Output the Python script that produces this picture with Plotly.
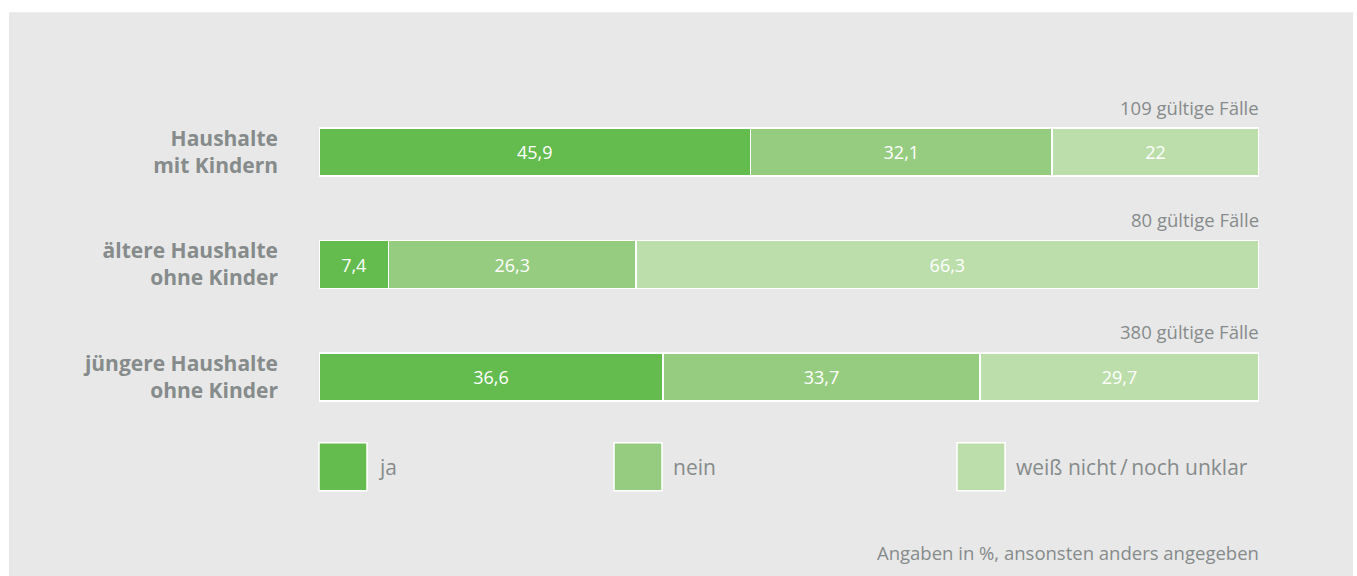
import plotly.graph_objects as go

categories = ["Haushalte<br>mit Kindern", "ältere Haushalte<br>ohne Kinder", "jüngere Haushalte<br>ohne Kinder"]
series_names = ["ja", "nein", "weiß nicht\u2009/\u2009noch unklar"]
ja = [45.9, 7.4, 36.6]
nein = [32.1, 26.3, 33.7]
unklar = [22, 66.3, 29.7]
cases = ["109 gültige Fälle", "80 gültige Fälle", "380 gültige Fälle"]
footnote = "Angaben in %, ansonsten anders angegeben"

colors = ["#64bb4e", "#96cc80", "#bcdeaa"]
TEXT = "#868b8b"
FONT = "Open Sans"

W, H = 1357, 576
L, R = 319, 1259
T, B = 95.75, 433.25


def fmt(v):
    s = ("%g" % v)
    return s.replace(".", ",")


def px_x(p):
    return (p - L) / (R - L)


def px_y(p):
    return (B - p) / (B - T)


fig = go.Figure()
for name, vals, col in zip(series_names, [ja, nein, unklar], colors):
    fig.add_trace(go.Bar(
        y=categories, x=vals, orientation="h", name=name,
        marker=dict(color=col, line=dict(color="white", width=1.5)),
        text=[fmt(v) for v in vals], textposition="inside",
        insidetextanchor="middle",
        textfont=dict(color="white", size=18, family=FONT),
        width=0.427, hoverinfo="skip", showlegend=False,
    ))

shapes = [dict(type="rect", xref="paper", yref="paper",
               x0=px_x(9), x1=px_x(1353), y0=px_y(580), y1=px_y(12),
               fillcolor="#e8e8e8", line=dict(width=0), layer="below")]
annotations = []
for cat, c in zip(categories, cases):
    annotations.append(dict(x=100, y=cat, xref="x", yref="y", text=c,
                            xanchor="right", yanchor="middle", yshift=45,
                            showarrow=False, xshift=2,
                            font=dict(size=18.5, color=TEXT, family=FONT)))

legend_x = [319, 614, 957]
for lx, name, col in zip(legend_x, series_names, colors):
    shapes.append(dict(type="rect", xref="paper", yref="paper",
                       x0=px_x(lx), x1=px_x(lx + 48), y0=px_y(491), y1=px_y(443),
                       fillcolor=col, line=dict(color="white", width=1.5)))
    annotations.append(dict(x=px_x(lx + 57), y=px_y(467), xref="paper", yref="paper",
                            text=name, xanchor="left", yanchor="middle",
                            showarrow=False,
                            font=dict(size=21, color=TEXT, family=FONT)))

annotations.append(dict(x=1, y=px_y(553), xref="paper", yref="paper",
                        text=footnote, xanchor="right", yanchor="middle",
                        showarrow=False, xshift=2,
                        font=dict(size=18.5, color=TEXT, family=FONT)))

fig.update_layout(
    barmode="stack", width=W, height=H,
    margin=dict(l=L, r=W - R, t=T, b=H - B),
    paper_bgcolor="white", plot_bgcolor="rgba(0,0,0,0)",
    shapes=shapes, annotations=annotations,
    xaxis=dict(range=[0, 100], visible=False, fixedrange=True),
    yaxis=dict(autorange=False, range=[2.5, -0.5], showgrid=False, zeroline=False,
               ticks="", ticklabelstandoff=40,
               tickfont=dict(size=21, color=TEXT, family=FONT, weight="bold"),
               fixedrange=True),
    showlegend=False,
)
fig.write_html("out.html", config={"displayModeBar": False, "staticPlot": True},
               post_script="document.body.style.margin='0px';document.body.style.overflow='hidden';")
